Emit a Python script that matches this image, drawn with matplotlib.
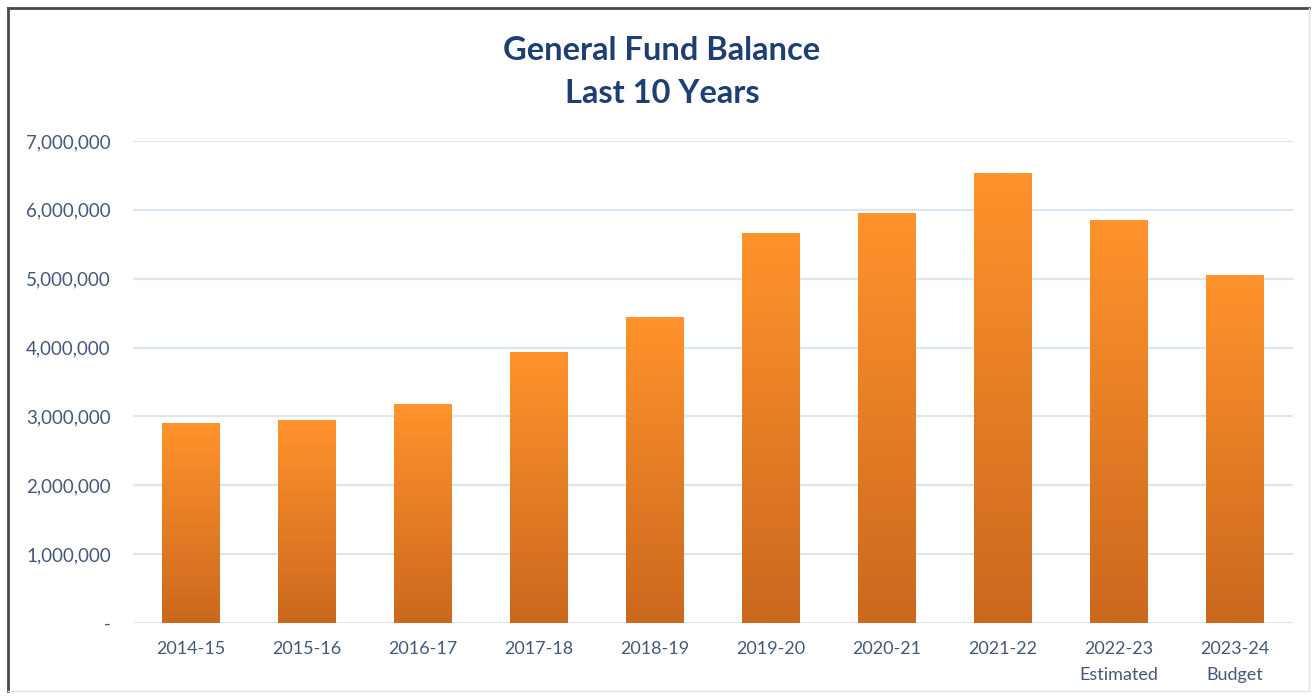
import numpy as np
import matplotlib
matplotlib.use('Agg')
import matplotlib.pyplot as plt
from matplotlib.colors import LinearSegmentedColormap
from matplotlib.ticker import FuncFormatter
from matplotlib.lines import Line2D

# Data
years = ['2014-15', '2015-16', '2016-17', '2017-18', '2018-19',
         '2019-20', '2020-21', '2021-22', '2022-23\nEstimated', '2023-24\nBudget']
balance = [2900000, 2950000, 3180000, 3930000, 4440000,
           5660000, 5960000, 6530000, 5850000, 5050000]
y_ticks = [0, 1000000, 2000000, 3000000, 4000000, 5000000, 6000000, 7000000]

plt.rcParams['font.family'] = ['Lato', 'DejaVu Sans']

title_color = '#1F3F73'
label_color = '#44597A'
grad = LinearSegmentedColormap.from_list('orange_grad', ['#CB681E', '#FF932C'])

fig = plt.figure(figsize=(13.12, 6.96), dpi=100)
ax = fig.add_axes([0.1014, 0.1049, 0.8841, 0.6925])

x = np.arange(len(years))
bars = ax.bar(x, balance, width=0.5, color='none', edgecolor='none', zorder=3)

# fill each bar with a vertical gradient, clipped to the bar
gradient = np.linspace(0, 1, 256).reshape(-1, 1)
for b in bars:
    x0, y0 = b.get_x(), b.get_y()
    w, h = b.get_width(), b.get_height()
    im = ax.imshow(gradient, cmap=grad, origin='lower', aspect='auto',
                   extent=(x0, x0 + w, y0, y0 + h), zorder=3)
    im.set_clip_path(b)

ax.set_xlim(-0.5, len(years) - 0.5)
ax.set_ylim(0, 7000000)
ax.set_xticks(x)
ax.set_xticklabels(years, fontsize=13, color=label_color, linespacing=1.8)
ax.set_yticks(y_ticks)
ax.yaxis.set_major_formatter(FuncFormatter(lambda v, p: '-' if v == 0 else f'{int(v):,}'))
ax.tick_params(axis='y', labelsize=13.5, labelcolor=label_color, length=0, pad=16)
ax.tick_params(axis='x', length=0, pad=13)

ax.grid(axis='y', color='#DCE6F2', linewidth=1.6, zorder=0)
ax.set_axisbelow(True)
for s in ax.spines.values():
    s.set_visible(False)

fig.text(0.5046, 0.928, 'General Fund Balance', ha='center', va='center',
         fontsize=23.5, fontweight='bold', color=title_color)
fig.text(0.5046, 0.866, 'Last 10 Years', ha='center', va='center',
         fontsize=23.5, fontweight='bold', color=title_color)

# chart frame: dark top/left, light bottom/right
W, H = 1312, 696
fig.add_artist(Line2D([8 / W, 1309 / W], [1 - 8 / H, 1 - 8 / H], color='#4A4A4A', linewidth=2, transform=fig.transFigure))
fig.add_artist(Line2D([8 / W, 8 / W], [1 - 8 / H, 1 - 691 / H], color='#4A4A4A', linewidth=2, transform=fig.transFigure))
fig.add_artist(Line2D([8 / W, 1309 / W], [1 - 691 / H, 1 - 691 / H], color='#E2E2E2', linewidth=1, transform=fig.transFigure))
fig.add_artist(Line2D([1309 / W, 1309 / W], [1 - 8 / H, 1 - 691 / H], color='#E2E2E2', linewidth=1, transform=fig.transFigure))

fig.savefig('out.png', dpi=100)
